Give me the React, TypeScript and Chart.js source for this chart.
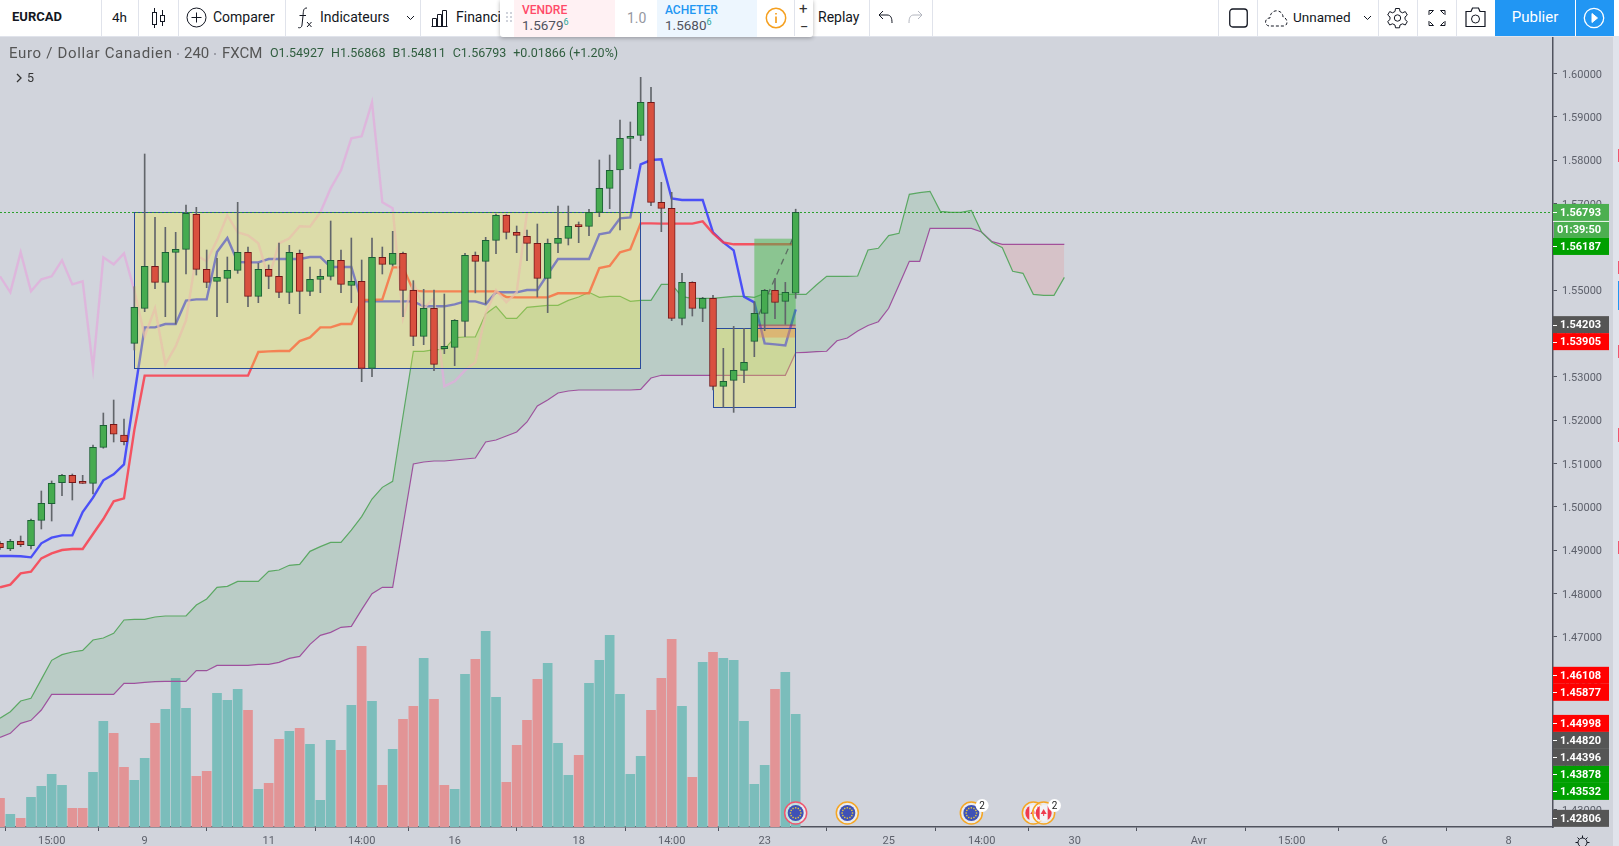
import React, { useEffect, useRef } from "react";
import { Chart, registerables } from "chart.js";

Chart.register(...registerables);

// ---------- data: candles (FXCM EURCAD 240), bar index 0 = left edge ----------
const opens = [1.49155,1.49024,1.49201,1.49101,1.49686,1.50071,1.50555,1.50724,1.50563,1.5054,1.51371,1.51902,1.51655,1.53771,1.54579,1.55549,1.55179,1.55872,1.55941,1.56749,1.55479,1.55202,1.55272,1.55456,1.55872,1.54856,1.55479,1.55318,1.54949,1.55849,1.54972,1.55249,1.55318,1.55687,1.5511,1.55202,1.53194,1.55756,1.55595,1.55849,1.54995,1.53933,1.5458,1.53648,1.53679,1.54279,1.55803,1.55665,1.56149,1.56726,1.56334,1.56242,1.5608,1.55272,1.5608,1.56196,1.5648,1.56473,1.56796,1.5735,1.57772,1.58504,1.58573,1.59335,1.57026,1.56888,1.54348,1.55179,1.54579,1.5481,1.52778,1.52917,1.53148,1.53817,1.54464,1.54995,1.54741,1.54927];
const highs = [1.49193,1.49247,1.49324,1.49716,1.50363,1.50594,1.50748,1.50755,1.50724,1.51425,1.52163,1.52463,1.52025,1.55079,1.58142,1.5668,1.56449,1.56334,1.56965,1.56911,1.55926,1.55733,1.55764,1.57026,1.55995,1.55618,1.5558,1.56087,1.56034,1.55926,1.55533,1.55479,1.56595,1.55926,1.56203,1.55695,1.56203,1.55995,1.56357,1.55879,1.55218,1.55018,1.55003,1.5491,1.5432,1.55849,1.5588,1.56219,1.56757,1.56742,1.5648,1.56388,1.56526,1.5618,1.56942,1.56942,1.56573,1.56865,1.58004,1.58119,1.58927,1.58881,1.59912,1.59681,1.57488,1.57257,1.55387,1.55194,1.54833,1.54879,1.53656,1.54163,1.54117,1.54733,1.55018,1.55272,1.55179,1.56868];
const lows = [1.49016,1.48985,1.49078,1.49024,1.49486,1.4967,1.50255,1.50155,1.50535,1.50294,1.5135,1.51494,1.51424,1.53617,1.54502,1.55033,1.54387,1.54217,1.55372,1.55349,1.55056,1.54387,1.5471,1.55387,1.54618,1.5471,1.55033,1.54825,1.54687,1.54456,1.54872,1.54941,1.55233,1.54941,1.5471,1.52886,1.53002,1.55372,1.55556,1.54387,1.53717,1.53741,1.53141,1.53533,1.53256,1.53925,1.54934,1.5468,1.55842,1.5618,1.55865,1.5568,1.54841,1.5448,1.55865,1.56042,1.56095,1.56257,1.56696,1.5688,1.56388,1.57803,1.5845,1.56949,1.56349,1.54294,1.54194,1.54402,1.54271,1.52694,1.52294,1.52178,1.52863,1.53463,1.54063,1.54341,1.5421,1.54811];
const closes = [1.49055,1.49201,1.49124,1.49686,1.50078,1.5054,1.50724,1.50555,1.5054,1.51371,1.51879,1.51672,1.51501,1.54602,1.55549,1.55179,1.55872,1.55941,1.56772,1.55479,1.55179,1.55295,1.55456,1.55872,1.54856,1.55479,1.55318,1.54949,1.55872,1.54972,1.55249,1.55318,1.55687,1.55133,1.55202,1.53194,1.55756,1.55595,1.55849,1.54995,1.53933,1.5458,1.53287,1.53702,1.54303,1.55803,1.55665,1.56149,1.56726,1.56334,1.56265,1.5608,1.55272,1.5608,1.56196,1.56473,1.56465,1.56796,1.5735,1.57765,1.58504,1.5855,1.59335,1.57026,1.56888,1.54348,1.55179,1.54579,1.5481,1.52778,1.52894,1.53148,1.53332,1.54464,1.54995,1.54718,1.54948,1.56793];

// ---------- Ichimoku ----------
const tenkan = [1.48862,1.48862,1.48855,1.48831,1.49155,1.49286,1.49339,1.49339,1.49878,1.50209,1.50609,1.50748,1.50978,1.52579,1.54141,1.54141,1.54217,1.54217,1.54756,1.54787,1.54787,1.5588,1.56203,1.55649,1.55641,1.55641,1.55718,1.55718,1.55718,1.55718,1.55764,1.55764,1.55533,1.55533,1.55533,1.54741,1.54741,1.54741,1.54741,1.54741,1.54741,1.54626,1.54626,1.54626,1.54672,1.54741,1.54741,1.54672,1.54949,1.54949,1.54949,1.55003,1.55003,1.55364,1.55718,1.55718,1.55718,1.55718,1.56288,1.56334,1.56657,1.5668,1.57903,1.58003,1.58019,1.57118,1.5708,1.5708,1.5708,1.56334,1.56103,1.55918,1.54848,1.54718,1.53771,1.53748,1.53725,1.54556];
const kijun = [1.48139,1.48201,1.48462,1.48501,1.48808,1.48924,1.49001,1.49024,1.49024,1.4937,1.49716,1.50124,1.50194,1.51771,1.53025,1.53025,1.53025,1.53025,1.53025,1.53025,1.53025,1.53025,1.53025,1.53025,1.53025,1.53571,1.53586,1.53594,1.53594,1.53825,1.5391,1.54141,1.54141,1.54217,1.54217,1.54772,1.54772,1.54787,1.55526,1.55526,1.54987,1.54972,1.54972,1.54972,1.54972,1.54972,1.54972,1.54972,1.54972,1.54841,1.54833,1.54833,1.54833,1.54833,1.54926,1.54926,1.54926,1.54926,1.55511,1.55557,1.55872,1.55942,1.56541,1.56541,1.56534,1.56534,1.56534,1.56534,1.56587,1.5631,1.56103,1.56057,1.56057,1.56057,1.56057,1.56057,1.56057,1.56057];
const chikou = [1.55318,1.54949,1.55872,1.54972,1.55249,1.55318,1.55687,1.55133,1.55202,1.53194,1.55756,1.55595,1.55849,1.54995,1.53933,1.5458,1.53287,1.53702,1.54303,1.55803,1.55665,1.56149,1.56726,1.56334,1.56265,1.5608,1.55272,1.5608,1.56196,1.56473,1.56465,1.56796,1.5735,1.57765,1.58504,1.5855,1.59335,1.57026,1.56888,1.54348,1.55179,1.54579,1.5481,1.52778,1.52894,1.53148,1.53332,1.54464,1.54995,1.54718,1.54948,1.56793];
const senkouA = [1.45115,1.45269,1.45515,1.45577,1.46015,1.46454,1.46585,1.46646,1.46685,1.46923,1.46969,1.47077,1.47385,1.474,1.474,1.47454,1.47477,1.47477,1.47477,1.47731,1.4787,1.48139,1.48162,1.48277,1.48277,1.48277,1.48508,1.48539,1.48647,1.4867,1.4897,1.49078,1.49178,1.49178,1.49462,1.4977,1.50178,1.50447,1.50586,1.52094,1.53586,1.53587,1.53625,1.53633,1.53902,1.53918,1.53918,1.54449,1.54626,1.54349,1.54349,1.54603,1.54626,1.54649,1.54649,1.54764,1.54841,1.54949,1.54833,1.54857,1.54857,1.54741,1.54764,1.54764,1.55133,1.55133,1.54848,1.5481,1.5481,1.5481,1.54833,1.54856,1.54856,1.54833,1.54925,1.54902,1.54902,1.54902,1.54902,1.55118,1.55318,1.55318,1.55318,1.55325,1.55926,1.55965,1.56257,1.56311,1.57211,1.5725,1.57281,1.56819,1.56796,1.56796,1.56842,1.56334,1.56103,1.5598,1.55434,1.55388,1.54903,1.5488,1.5488,1.55295];
const senkouB = [1.44676,1.44769,1.45,1.45069,1.45307,1.45669,1.45669,1.45669,1.45669,1.45669,1.45669,1.45669,1.45923,1.45923,1.45946,1.45961,1.45969,1.45969,1.45969,1.46215,1.46215,1.46338,1.46338,1.46338,1.46338,1.46362,1.46362,1.46408,1.465,1.46546,1.46823,1.47031,1.471,1.47216,1.47239,1.47623,1.47992,1.4814,1.4814,1.49562,1.50986,1.51032,1.51055,1.51055,1.51078,1.51101,1.51125,1.51494,1.5154,1.51632,1.51725,1.51956,1.52325,1.52463,1.52625,1.52671,1.52694,1.52694,1.52694,1.52694,1.52694,1.52694,1.5271,1.52971,1.53034,1.53034,1.53034,1.53034,1.53034,1.53034,1.53034,1.53034,1.53034,1.53034,1.53034,1.53034,1.53034,1.53555,1.53564,1.53578,1.53588,1.53832,1.53895,1.54056,1.54183,1.54271,1.5458,1.55118,1.55665,1.55665,1.56426,1.56426,1.56426,1.56426,1.56426,1.56342,1.56119,1.56057,1.56057,1.56057,1.56057,1.56057,1.56057,1.56057];

// ---------- volume ----------
const volumes = [86,38,26,89,122,158,125,56,56,164,317,281,179,140,206,311,353,446,356,152,167,401,380,413,350,113,131,263,287,296,248,80,260,230,365,542,377,125,233,323,362,506,383,125,113,458,503,587,389,134,245,320,443,491,251,155,215,431,500,575,398,158,212,350,446,563,362,149,494,524,506,500,317,128,185,413,464,338];
const volumeDownBars = [0,2,7,8,11,12,15,19,20,24,26,27,29,33,35,37,39,40,42,43,46,49,50,51,52,56,63,64,65,67,69,75];

// ---------- axes ----------
const priceTicks = [1.43,1.44,1.45,1.46,1.47,1.48,1.49,1.5,1.51,1.52,1.53,1.54,1.55,1.56,1.57,1.58,1.59,1.6];
const timeTickBars = [5,14,26,35,44,56,65,74,86,95,104,116,125,134,146];
const timeTickLabels = ["15:00","9","11","14:00","16","18","14:00","23","25","14:00","30","Avr","15:00","6","8"];

// ---------- price tags (top to bottom) ----------
const tagValues = [1.56793,1.56187,1.54203,1.53905,1.46108,1.45877,1.44998,1.4482,1.44396,1.43878,1.43532,1.42806];
const tagColors = ["#4caf50","#00a000","#555555","#ff0000","#ff0000","#ff0000","#ff0000","#555555","#555555","#00a000","#00a000","#555555"];
const countdownText = "01:39:50";

// ---------- drawings ----------
const zoneStartBars = [13,69];
const zoneEndBars = [62,77];
const zoneTopPrices = [1.56793,1.54118];
const zoneBottomPrices = [1.53195,1.52294];
const positionBars = [73,77];
const positionPrices = [1.56187,1.54203,1.53905];
const lastPrice = 1.56793;

// ---------- economic events ----------
const eventBars = [77,82,94,100,101];
const eventFlags = ["eu","eu","eu","ca","ca"];
const eventRings = ["#f0566f","#f5a623","#f5a623","#f5a623","#f5a623"];
const eventBadgeBars = [95,102];

const FONT = "Roboto, sans-serif";
const BG = "#d1d4dc";

const drawingsPlugin = {
  id: "drawings",
  beforeDatasetDraw(chart: any, args: any) {
    if (chart.data.datasets[args.index].id !== "wicks") return;
    const { ctx, chartArea: a } = chart;
    const x = chart.scales.x, y = chart.scales.y;
    ctx.save();
    ctx.beginPath();
    ctx.rect(a.left, a.top, a.right - a.left, a.bottom - a.top);
    ctx.clip();
    // position tool
    const px0 = x.getPixelForValue(positionBars[0]), px1 = x.getPixelForValue(positionBars[1]);
    const [tp, en, sl] = positionPrices.map((v) => y.getPixelForValue(v));
    ctx.fillStyle = "rgba(70,182,70,0.5)";
    ctx.fillRect(px0, tp, px1 - px0, en - tp);
    ctx.fillStyle = "rgba(240,90,60,0.4)";
    ctx.fillRect(px0, en, px1 - px0, sl - en);
    ctx.strokeStyle = "rgba(110,70,70,0.7)";
    ctx.lineWidth = 1;
    ctx.beginPath(); ctx.moveTo(px0, en + 0.5); ctx.lineTo(px1, en + 0.5); ctx.stroke();
    // zones
    zoneStartBars.forEach((s, i) => {
      const l = Math.floor(x.getPixelForValue(s)), r = Math.floor(x.getPixelForValue(zoneEndBars[i]));
      const t = y.getPixelForValue(zoneTopPrices[i]), b = y.getPixelForValue(zoneBottomPrices[i]);
      ctx.fillStyle = "rgba(246,239,53,0.3)";
      ctx.fillRect(l, t, r - l, b - t);
      ctx.strokeStyle = "#2a4b9b";
      ctx.lineWidth = 1;
      ctx.strokeRect(l + 0.5, Math.round(t) + 0.5, r - l, Math.round(b - t));
    });
    // dashed trade path
    ctx.strokeStyle = "rgba(85,95,90,0.85)";
    ctx.lineWidth = 1.3;
    ctx.setLineDash([6, 5]);
    ctx.beginPath(); ctx.moveTo(px0, en); ctx.lineTo(px1 - 3, tp); ctx.stroke();
    // last price line
    const ly = Math.round(y.getPixelForValue(lastPrice)) + 0.5;
    ctx.setLineDash([2, 2]);
    ctx.strokeStyle = "#2ca02c";
    ctx.lineWidth = 1;
    ctx.beginPath(); ctx.moveTo(a.left, ly); ctx.lineTo(a.right, ly); ctx.stroke();
    ctx.restore();
  },
  afterDraw(chart: any) {
    const { ctx, chartArea: a } = chart;
    const x = chart.scales.x, y = chart.scales.y;
    ctx.save();
    // events
    const cy = a.bottom - 14;
    eventBars.forEach((b, i) => {
      const cx = x.getPixelForValue(b);
      ctx.beginPath(); ctx.arc(cx, cy, 11, 0, Math.PI * 2);
      ctx.fillStyle = "rgba(255,255,255,0.55)"; ctx.fill();
      ctx.lineWidth = 1.5; ctx.strokeStyle = eventRings[i]; ctx.stroke();
      ctx.save();
      ctx.beginPath(); ctx.arc(cx, cy, 8, 0, Math.PI * 2); ctx.clip();
      if (eventFlags[i] === "eu") {
        ctx.fillStyle = "#3f51b5"; ctx.fillRect(cx - 9, cy - 9, 18, 18);
        ctx.fillStyle = "#e8c93c";
        for (let k = 0; k < 12; k++) {
          const ang = (k / 12) * Math.PI * 2;
          ctx.fillRect(cx + Math.cos(ang) * 5.2 - 0.7, cy + Math.sin(ang) * 5.2 - 0.7, 1.4, 1.4);
        }
      } else {
        ctx.fillStyle = "#f3f3f6"; ctx.fillRect(cx - 9, cy - 9, 18, 18);
        ctx.fillStyle = "#ef3b4e";
        ctx.fillRect(cx - 9, cy - 9, 5, 18);
        ctx.fillRect(cx + 4, cy - 9, 5, 18);
        ctx.beginPath(); ctx.moveTo(cx, cy - 4); ctx.lineTo(cx + 3, cy + 1); ctx.lineTo(cx - 3, cy + 1); ctx.closePath(); ctx.fill();
        ctx.fillRect(cx - 0.5, cy, 1, 3);
      }
      ctx.restore();
    });
    eventBadgeBars.forEach((b) => {
      const cx = x.getPixelForValue(b) + 0.5;
      ctx.beginPath(); ctx.arc(cx, cy - 7.5, 6.5, 0, Math.PI * 2);
      ctx.fillStyle = "#ffffff"; ctx.fill();
      ctx.fillStyle = "#222"; ctx.font = "10px " + FONT;
      ctx.textAlign = "center"; ctx.textBaseline = "middle";
      ctx.fillText("2", cx, cy - 7);
    });
    // price tags, pushed down when they would overlap
    const H = 17;
    let prevY = -100;
    ctx.font = "700 11px " + FONT;
    ctx.textBaseline = "middle";
    const left = a.right, right = a.right + 56, textRight = a.right + 48;
    tagValues.forEach((v, i) => {
      const actual = y.getPixelForValue(v);
      const c = Math.max(actual, prevY + H);
      ctx.fillStyle = tagColors[i];
      ctx.fillRect(left, c - H / 2, right - left, H);
      ctx.fillStyle = "#ffffff";
      ctx.fillRect(left, Math.round(c), 4, 1);
      ctx.textAlign = "right";
      ctx.fillText(v.toFixed(5), textRight, c + 0.5);
      prevY = c;
      if (i === 0) {
        const cc = c + H;
        ctx.fillStyle = tagColors[0];
        ctx.fillRect(left + 1, cc - H / 2, right - left - 1, H);
        ctx.fillStyle = "rgba(255,255,255,0.9)";
        ctx.fillRect(left, cc - H / 2, right - left, 1);
        ctx.fillStyle = "#ffffff";
        ctx.fillText(countdownText, textRight, cc + 0.5);
        prevY = cc;
      }
    });
    ctx.restore();
  },
};

const Sep = ({ x }: { x: number }) => (
  <div style={{ position: "absolute", left: x, top: 0, width: 1, height: 36, background: "#e0e3eb" }} />
);
const T = ({ x, y, children, style }: any) => (
  <div style={{ position: "absolute", left: x, top: y, whiteSpace: "nowrap", fontFamily: FONT, lineHeight: "16px", ...style }}>{children}</div>
);
const Icon = ({ x, y, w, h, children, vb }: any) => (
  <svg style={{ position: "absolute", left: x, top: y }} width={w} height={h} viewBox={vb || `0 0 ${w} ${h}`} fill="none" stroke="#131722" strokeWidth={1}>
    {children}
  </svg>
);

export default function App() {
  const ref = useRef<HTMLCanvasElement>(null);
  useEffect(() => {
    const bars = closes.map((_, i) => i);
    const pts = (arr: number[]) => arr.map((y, x) => ({ x, y }));
    const up = closes.map((c, i) => c >= opens[i]);
    const downSet = new Set(volumeDownBars);
    const chart = new Chart(ref.current as HTMLCanvasElement, {
      type: "bar",
      data: {
        datasets: [
          {
            id: "bodies", label: "Bougies", order: 1, grouped: false, barThickness: 7, minBarLength: 2,
            data: bars.map((i) => ({ x: i, y: [opens[i], closes[i]] })),
            backgroundColor: up.map((u) => (u ? "#46ab50" : "#d9503f")),
            borderColor: up.map((u) => (u ? "#1c5f35" : "#74181a")),
            borderWidth: 1, borderSkipped: false,
          },
          {
            id: "wicks", label: "Mèches", order: 2, grouped: false, barThickness: 1,
            data: bars.map((i) => ({ x: i, y: [lows[i], highs[i]] })),
            backgroundColor: "#62666b",
          },
          { type: "line", label: "Chikou", order: 3, data: pts(chikou), borderColor: "rgba(226,172,220,0.75)", borderWidth: 2.4, pointRadius: 0, tension: 0 },
          { type: "line", label: "Kijun", order: 4, data: pts(kijun), borderColor: "rgba(250,60,75,0.85)", borderWidth: 2.4, pointRadius: 0, tension: 0 },
          { type: "line", label: "Tenkan", order: 5, data: pts(tenkan), borderColor: "rgba(60,65,250,0.9)", borderWidth: 2.4, pointRadius: 0, tension: 0 },
          {
            type: "line", label: "Senkou A", order: 6, data: pts(senkouA), borderColor: "#5ba863", borderWidth: 1.2, pointRadius: 0, tension: 0,
            fill: { target: "+1", above: "rgba(70,160,90,0.16)", below: "rgba(248,78,66,0.13)" },
          },
          { type: "line", label: "Senkou B", order: 7, data: pts(senkouB), borderColor: "#a050a3", borderWidth: 1.2, pointRadius: 0, tension: 0 },
          {
            id: "volume", label: "Volume", order: 8, grouped: false, yAxisID: "v", barThickness: 9,
            data: bars.map((i) => ({ x: i, y: volumes[i] })),
            backgroundColor: bars.map((i) => (downSet.has(i) ? "#e29496" : "#7bbdbb")),
          },
        ] as any,
      },
      options: {
        animation: false,
        responsive: false,
        devicePixelRatio: 1,
        layout: { padding: { top: 37 } },
        plugins: { legend: { display: false }, tooltip: { enabled: false } },
        events: [],
        scales: {
          x: {
            type: "linear", offset: false, min: 0, max: 1553 / (31 / 3),
            afterFit: (s: any) => { s.height = 19; },
            afterBuildTicks: (s: any) => { s.ticks = timeTickBars.map((value) => ({ value })); },
            grid: { drawOnChartArea: false, drawTicks: true, tickLength: 4, color: "#50535e" },
            border: { color: "#50535e", width: 1.5 },
            ticks: {
              autoSkip: false, maxRotation: 0, padding: 4, color: "#5d606b", font: { family: FONT, size: 11 },
              callback: (v: any) => timeTickLabels[timeTickBars.indexOf(v)],
            },
          },
          y: {
            position: "right", min: 1.61697 - 827 / 4332, max: 1.61697 - 37 / 4332,
            afterFit: (s: any) => { s.width = 66; },
            afterBuildTicks: (s: any) => { s.ticks = priceTicks.map((value) => ({ value })); },
            grid: { drawOnChartArea: false, drawTicks: true, tickLength: 4, color: "#50535e" },
            border: { color: "#50535e", width: 1.5 },
            ticks: {
              autoSkip: false, padding: 5, color: "#5d606b", font: { family: FONT, size: 11, lineHeight: "3px" },
              callback: (v: any) => ["", Number(v).toFixed(5)],
            },
          },
          v: { display: false, min: 0, max: 2370 },
        },
      } as any,
      plugins: [drawingsPlugin],
    });
    return () => chart.destroy();
  }, []);

  const ink = { fontSize: 14, color: "#131722" };
  const val = { color: "#2f5d3e", fontSize: 12.5 };
  const dot = <span style={{ position: "absolute", width: 2, height: 2, borderRadius: 1, background: "#8a8d96" }} />;
  return (
    <div style={{ position: "fixed", left: 0, top: 0, width: 1619, height: 846, overflow: "hidden", background: BG }}>
      <canvas ref={ref} width={1619} height={846} style={{ position: "absolute", left: 0, top: 0, width: 1619, height: 846 }} />

      {/* right strip */}
      <div style={{ position: "absolute", left: 1613, top: 37, width: 6, height: 809, background: "#e0e3eb" }} />
      {[[149, "#f0566f", 13], [261, "#f0566f", 13], [281, "#2196f3", 29], [345, "#f0566f", 13], [428, "#f0566f", 14], [541, "#f0566f", 13]].map((m: any, i) => (
        <div key={i} style={{ position: "absolute", left: 1618, top: m[0], width: 1, height: m[2], background: m[1] }} />
      ))}

      {/* legend */}
      <T x={9} y={45} style={{ fontSize: 15, color: "#555", letterSpacing: 0.66 }}>Euro / Dollar Canadien</T>
      <div style={{ position: "absolute", left: 177, top: 53 }}>{dot}</div>
      <T x={184} y={45} style={{ fontSize: 15, color: "#555" }}>240</T>
      <div style={{ position: "absolute", left: 214, top: 53 }}>{dot}</div>
      <T x={222} y={45} style={{ fontSize: 15, color: "#555" }}>FXCM</T>
      <T x={270} y={45} style={val}>
        <span>O1.54927</span><span style={{ marginLeft: 7 }}>H1.56868</span><span style={{ marginLeft: 7 }}>B1.54811</span><span style={{ marginLeft: 7 }}>C1.56793</span><span style={{ marginLeft: 7 }}>+0.01866 (+1.20%)</span>
      </T>
      <Icon x={15} y={73} w={8} h={10}><path d="M2 1 L6 5 L2 9" stroke="#333" strokeWidth={1.3} /></Icon>
      <T x={27} y={70} style={{ fontSize: 12.5, color: "#333" }}>5</T>

      {/* toolbar */}
      <div style={{ position: "absolute", left: 0, top: 0, width: 1619, height: 36, background: "#fff", borderBottom: "1px solid #e0e3eb" }} />
      {[101, 138, 178, 285, 420, 869, 932, 1218, 1257, 1378, 1417, 1456].map((x) => <Sep key={x} x={x} />)}
      <T x={12} y={9} style={{ fontSize: 13, fontWeight: 700, color: "#131722" }}>EURCAD</T>
      <T x={112} y={9} style={{ fontSize: 13.5, color: "#131722" }}>4h</T>
      <Icon x={150} y={7} w={17} h={22}>
        <path d="M4.5 1 V21 M12.5 3 V19" /><rect x="2.5" y="5.5" width="4" height="12" fill="#fff" /><rect x="10.5" y="8.5" width="4" height="6" fill="#fff" />
      </Icon>
      <Icon x={186} y={7} w={21} h={21}><circle cx="10.5" cy="10.5" r="9.5" /><path d="M10.5 5.5 V15.5 M5.5 10.5 H15.5" /></Icon>
      <T x={213} y={9} style={ink}>Comparer</T>
      <Icon x={296} y={7} w={18} h={22}><path d="M11 1 C7 1 7.5 4 7 9 L6 18 C5.6 21 3.5 21 2 20.5 M3.5 8.5 H10" /><path d="M11 15 L15.5 20 M15.5 15 L11 20" /></Icon>
      <T x={320} y={9} style={ink}>Indicateurs</T>
      <Icon x={406} y={15} w={9} h={6}><path d="M1 1 L4.5 4.5 L8 1" /></Icon>
      <Icon x={431} y={9} w={17} h={18}><path d="M0.5 17.5 H16.5 M1.5 17.5 V9.5 H5.5 V17.5 M6.5 17.5 V5.5 H10.5 V17.5 M11.5 17.5 V1.5 H15.5 V17.5" /></Icon>
      <T x={456} y={9} style={ink}>Financi</T>
      <T x={818} y={9} style={ink}>Replay</T>
      <Icon x={878} y={9} w={16} h={16}><path d="M5 2 L1 6 L5 10 M1 6 H9 C13 6 14 9 14 14" /></Icon>
      <Icon x={907} y={9} w={16} h={16}><path d="M11 2 L15 6 L11 10 M15 6 H7 C3 6 2 9 2 14" stroke="#b2b5be" /></Icon>
      <Icon x={1229} y={8} w={19} h={20}><rect x="0.75" y="1" width="17.5" height="18" rx="3" strokeWidth={1.3} /></Icon>
      <Icon x={1265} y={9} w={24} h={18}><path d="M4 17 C-1 16 -0.5 9 5 9 C5 4 9 1 13 2 C17 3 18 6 18 8 C22 8.5 24 16 19 17 Z" strokeDasharray="3 2" /></Icon>
      <T x={1293} y={9} style={{ fontSize: 13.5, color: "#131722" }}>Unnamed</T>
      <Icon x={1363} y={15} w={9} h={6}><path d="M1 1 L4.5 4.5 L8 1" /></Icon>
      <Icon x={1387} y={7} w={21} h={22}>
        <circle cx="10.5" cy="11" r="3.2" />
        <path d="M8.5 1.5 H12.5 L13 4.5 L15.5 5.8 L18.3 4.6 L20.3 8 L18 10 V12.5 L20.3 14.5 L18.3 18 L15.5 16.8 L13 18 L12.5 20.8 H8.5 L8 18 L5.5 16.8 L2.7 18 L0.7 14.5 L3 12.5 V10 L0.7 8 L2.7 4.6 L5.5 5.8 L8 4.5 Z" />
      </Icon>
      <Icon x={1428} y={9} w={18} h={18}><path d="M1 6 V1.5 H5.5 L2 5 M17 6 V1.5 H12.5 L16 5 M1 12 V16.5 H5.5 L2 13 M17 12 V16.5 H12.5 L16 13" /></Icon>
      <Icon x={1465} y={7} w={21} h={21}><path d="M1 4.5 H6 L7.5 1 H13.5 L15 4.5 H20 V19.5 H1 Z" strokeWidth={1.2} /><circle cx="10.5" cy="12" r="4" /></Icon>
      <div style={{ position: "absolute", left: 1495, top: 0, width: 80, height: 36, background: "#2196f3", color: "#fff", fontFamily: FONT, fontSize: 15, lineHeight: "35px", textAlign: "center" }}>Publier</div>
      <div style={{ position: "absolute", left: 1576, top: 0, width: 38, height: 36, background: "#2196f3" }} />
      <svg style={{ position: "absolute", left: 1583, top: 7 }} width="22" height="22" fill="none" stroke="#fff"><circle cx="11" cy="11" r="9.7" strokeWidth="1.3" /><path d="M9 6.5 L14.5 11 L9 15.5 Z" fill="#fff" /></svg>

      {/* floating trade panel */}
      <div style={{ position: "absolute", left: 500, top: 0, width: 313, height: 37, background: "#fff", borderRadius: "0 0 3px 3px", boxShadow: "0 1px 4px rgba(0,0,0,0.3)" }} />
      <div style={{ position: "absolute", left: 514, top: 0, width: 101, height: 37, background: "#fff1f3" }} />
      <div style={{ position: "absolute", left: 657, top: 0, width: 100, height: 37, background: "#edf6fe" }} />
      <Sep x={794} />
      {[506, 510].map((x) => [12, 16, 20].map((y) => <div key={x + "-" + y} style={{ position: "absolute", left: x, top: y, width: 2, height: 2, background: "#d0d3db" }} />))}
      <T x={522} y={2} style={{ fontSize: 12, fontWeight: 500, color: "#ff4a68" }}>VENDRE</T>
      <T x={522} y={17} style={{ fontSize: 13.5, color: "#50535e" }}>1.5679<sup style={{ fontSize: 9, color: "#26a69a", lineHeight: 0 }}>6</sup></T>
      <T x={627} y={10} style={{ fontSize: 14, color: "#9598a1" }}>1.0</T>
      <T x={665} y={2} style={{ fontSize: 12, fontWeight: 500, color: "#2196f3" }}>ACHETER</T>
      <T x={665} y={17} style={{ fontSize: 13.5, color: "#50535e" }}>1.5680<sup style={{ fontSize: 9, color: "#26a69a", lineHeight: 0 }}>6</sup></T>
      <svg style={{ position: "absolute", left: 765, top: 7 }} width="22" height="22" fill="none" stroke="#f5a020"><circle cx="11" cy="11" r="9.7" strokeWidth="1.5" /><path d="M11 9.5 V16 M11 6 V7.5" strokeWidth="1.7" /></svg>
      <T x={799} y={1} style={{ fontSize: 15, color: "#333" }}>+</T>
      <T x={800} y={19} style={{ fontSize: 15, color: "#333" }}>−</T>

      {/* settings gear on the axis corner */}
      <svg style={{ position: "absolute", left: 1575, top: 835 }} width="15" height="15" fill="none" stroke="#131722"><circle cx="7.5" cy="7.5" r="4.5" /><path d="M7.5 0.5 V3 M7.5 12 V14.5 M0.5 7.5 H3 M12 7.5 H14.5 M2.5 2.5 L4.2 4.2 M10.8 10.8 L12.5 12.5 M12.5 2.5 L10.8 4.2 M2.5 12.5 L4.2 10.8" /></svg>
    </div>
  );
}
